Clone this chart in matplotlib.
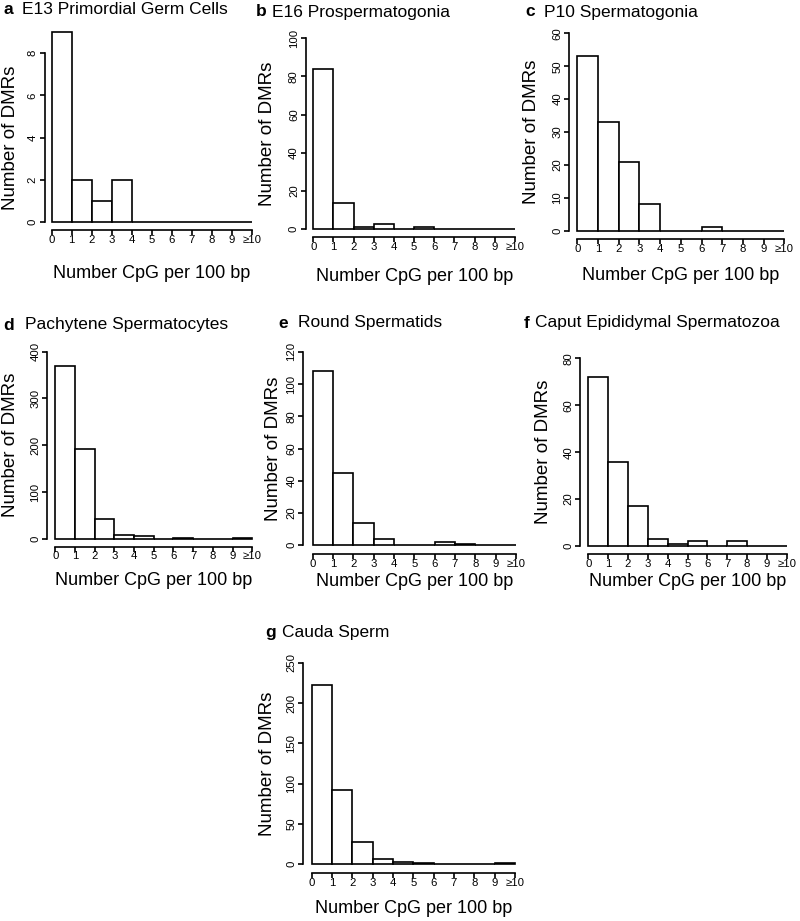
import matplotlib
matplotlib.use("Agg")
import matplotlib.pyplot as plt
import matplotlib.transforms as mtransforms
import numpy as np

plt.rcParams['font.family'] = ['Liberation Sans', 'DejaVu Sans']

W, H = 800, 921

bins = list(range(10))
xtick_labels = ["0", "1", "2", "3", "4", "5", "6", "7", "8", "9", "\u226510"]

letters = ["a", "b", "c", "d", "e", "f", "g"]
titles = ["E13 Primordial Germ Cells", "E16 Prospermatogonia", "P10 Spermatogonia",
          "Pachytene Spermatocytes", "Round Spermatids", "Caput Epididymal Spermatozoa",
          "Cauda Sperm"]

counts_a = [9, 2, 1, 2, 0, 0, 0, 0, 0, 0]
counts_b = [84, 14, 1, 3, 0, 1, 0, 0, 0, 0]
counts_c = [53, 33, 21, 8, 0, 0, 1, 0, 0, 0]
counts_d = [370, 191, 43, 8, 6, 0, 2, 0, 0, 2]
counts_e = [108, 45, 14, 4, 0, 0, 2, 1, 0, 0]
counts_f = [72, 36, 17, 3, 1, 2, 0, 2, 0, 0]
counts_g = [222, 92, 28, 7, 3, 1, 0, 0, 0, 1]
all_counts = [counts_a, counts_b, counts_c, counts_d, counts_e, counts_f, counts_g]

yticks_all = [
    [0, 2, 4, 6, 8],
    [0, 20, 40, 60, 80, 100],
    [0, 10, 20, 30, 40, 50, 60],
    [0, 100, 200, 300, 400],
    [0, 20, 40, 60, 80, 100, 120],
    [0, 20, 40, 60, 80],
    [0, 50, 100, 150, 200, 250],
]

# layout in pixels:
# (yaxis_x, x0, x1, base_y, top_y, xaxis_y, letter_x, title_x, title_y, ylabel_x, xlabel_baseline_y)
layout = [
    (44.5, 51.7, 251.7, 222.3, 53.0, 230.0, 3, 22, 9, 11, 277.7),
    (305.7, 313.3, 515.0, 229.3, 38.3, 237.3, 256, 272, 12, 268, 281),
    (569.3, 577.3, 784.3, 230.7, 33.3, 239.0, 525, 544, 12, 531, 280),
    (47.3, 55.3, 252.3, 538.7, 351.7, 546.7, 3, 25, 325, 11, 585),
    (303.3, 312.7, 516.0, 545.3, 351.7, 554.0, 278, 298, 323, 274, 586),
    (580.0, 588.3, 786.7, 546.0, 358.3, 554.0, 524, 535, 323, 544, 586),
    (303.3, 311.7, 515.0, 864.3, 662.7, 873.3, 265, 282, 633, 268, 913),
]

fig = plt.figure(figsize=(W / 100, H / 100), dpi=100)
px2pt = 72 / 100

for i in range(7):
    yx, x0, x1, base, top, xa, lx, tx, ty, ylx, xly = layout[i]
    counts = all_counts[i]
    yt = yticks_all[i]
    ax = fig.add_axes([x0 / W, 1 - base / H, (x1 - x0) / W, (base - top) / H])
    ax.set_xlim(0, 10)
    ax.set_ylim(0, yt[-1])
    ax.patch.set_visible(False)
    ax.bar(bins, counts, width=1.0, align='edge', facecolor='white',
           edgecolor='black', linewidth=1.2, clip_on=False)
    for s in ['top', 'right']:
        ax.spines[s].set_visible(False)
    ax.spines['left'].set_position(('outward', (x0 - yx) * px2pt))
    ax.spines['left'].set_bounds(0, yt[-1])
    ax.spines['bottom'].set_position(('outward', (xa - base) * px2pt))
    ax.spines['bottom'].set_bounds(0, 10)
    for s in ['left', 'bottom']:
        ax.spines[s].set_linewidth(1.2)
    ax.set_yticks(yt)
    ax.set_yticklabels([str(v) for v in yt], rotation=90, va='center', fontsize=8.2)
    ax.set_xticks(range(11))
    ax.set_xticklabels(xtick_labels, fontsize=8.2)
    ax.tick_params(axis='both', length=3.4, width=1.2, color='black')
    ax.tick_params(axis='x', pad=0.0)
    ax.tick_params(axis='y', pad=1.5)
    ax.set_xlabel("Number CpG per 100 bp", fontsize=13)
    ax.set_ylabel("Number of DMRs", fontsize=13.5)
    tx_x = mtransforms.blended_transform_factory(ax.transAxes, fig.transFigure)
    ax.xaxis.set_label_coords(0.5, 1 - xly / H, transform=tx_x)
    ax.xaxis.label.set_va('baseline')
    tx_y = mtransforms.blended_transform_factory(fig.transFigure, ax.transAxes)
    ax.yaxis.set_label_coords(ylx / W, 0.5, transform=tx_y)
    ax.yaxis.label.set_va('center')
    fig.text(lx / W, 1 - ty / H, letters[i], fontsize=12.5, fontweight='bold',
             ha='left', va='center')
    fig.text(tx / W, 1 - ty / H, titles[i], fontsize=12.5, ha='left', va='center')

fig.savefig("out.png", dpi=100, facecolor='white')
